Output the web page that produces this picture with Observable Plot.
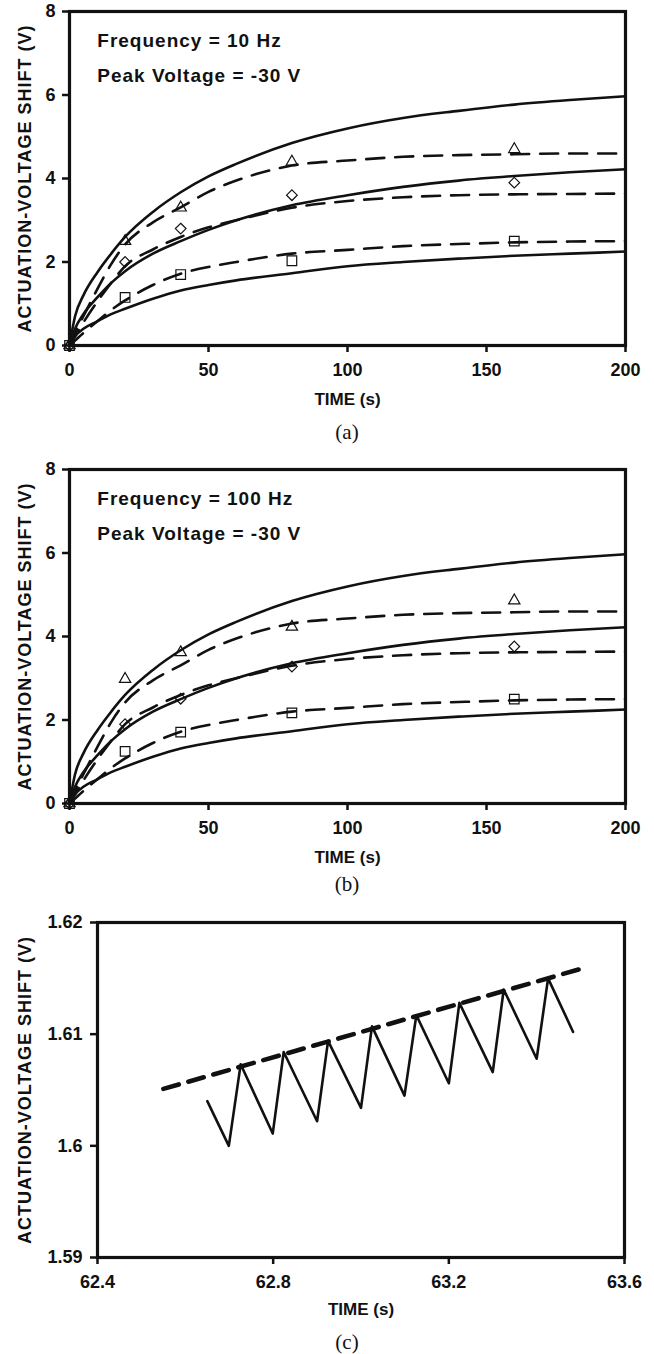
<!DOCTYPE html>
<html><head><meta charset="utf-8">
<script src="https://cdn.jsdelivr.net/npm/d3@7"></script>
<script src="https://cdn.jsdelivr.net/npm/@observablehq/plot@0.6"></script>
<style>
html,body{margin:0;padding:0;background:#fff;overflow:hidden;}
#fig{position:relative;width:654px;height:1354px;background:#fff;}
.panel{position:absolute;left:0;}
.cap{position:absolute;left:247px;width:200px;text-align:center;line-height:24px;font-family:"Liberation Serif","Times New Roman",serif;font-size:21px;color:#111;}
</style></head><body><div id="fig"></div>
<script>
// ---- panels (a) and (b): model curves (same in both panels) ----
const curveTime   = [0, 2, 5, 10, 15, 20, 30, 40, 50, 60, 80, 100, 120, 140, 160, 180, 200];
const solidHigh   = [0, 0.7, 1.2, 1.75, 2.2, 2.6, 3.2, 3.67, 4.05, 4.35, 4.85, 5.2, 5.45, 5.62, 5.77, 5.88, 5.97];
const solidMid    = [0, 0.4, 0.75, 1.15, 1.5, 1.78, 2.2, 2.5, 2.77, 3.0, 3.36, 3.6, 3.8, 3.95, 4.06, 4.15, 4.22];
const solidLow    = [0, 0.22, 0.4, 0.58, 0.75, 0.88, 1.12, 1.32, 1.45, 1.56, 1.73, 1.9, 2.0, 2.08, 2.15, 2.2, 2.25];
const dashedHigh  = [0, 0.3, 0.7, 1.35, 1.95, 2.42, 2.95, 3.31, 3.68, 3.95, 4.31, 4.43, 4.52, 4.56, 4.58, 4.6, 4.6];
const dashedMid   = [0, 0.22, 0.55, 1.05, 1.5, 1.9, 2.3, 2.6, 2.83, 3.0, 3.3, 3.46, 3.55, 3.6, 3.62, 3.63, 3.64];
const dashedLow   = [0, 0.12, 0.3, 0.58, 0.85, 1.08, 1.45, 1.72, 1.88, 2.0, 2.2, 2.29, 2.38, 2.43, 2.47, 2.49, 2.5];

// ---- measured points ----
const markerTime  = [0, 20, 40, 80, 160];
const trianglesA  = [0, 2.5, 3.3, 4.4, 4.7];
const diamondsA   = [0, 2.0, 2.8, 3.6, 3.9];
const squaresA    = [0, 1.15, 1.7, 2.03, 2.5];
const trianglesB  = [0, 2.98, 3.62, 4.23, 4.86];
const diamondsB   = [0, 1.9, 2.51, 3.28, 3.76];
const squaresB    = [0, 1.25, 1.71, 2.17, 2.5];

const xTicksAB = [0, 50, 100, 150, 200];
const yTicksAB = [0, 2, 4, 6, 8];
const notesA = ["Frequency = 10 Hz", "Peak Voltage = -30 V"];
const notesB = ["Frequency = 100 Hz", "Peak Voltage = -30 V"];
const noteY  = [7.16, 6.31];

// ---- panel (c) ----
const sawTime  = [62.65, 62.699, 62.726, 62.799, 62.824, 62.9, 62.925, 63.0, 63.025, 63.099, 63.126, 63.2, 63.224, 63.3, 63.325, 63.4, 63.426, 63.483];
const sawValue = [1.604, 1.600, 1.6073, 1.6011, 1.6084, 1.6022, 1.6094, 1.6034, 1.6107, 1.6045, 1.6117, 1.6056, 1.6128, 1.6066, 1.614, 1.6078, 1.615, 1.6102];
const envTime  = [62.55, 63.496];
const envValue = [1.6051, 1.6158];
const xTicksC = [62.4, 62.8, 63.2, 63.6];
const yTicksC = [1.59, 1.6, 1.61, 1.62];

const yLabel = "ACTUATION-VOLTAGE SHIFT (V)";
const xLabel = "TIME (s)";

const FONT = "'Liberation Sans', Arial, Helvetica, sans-serif";
const INK = "#111";

function rows(xs, ys) { return xs.map((x, i) => ({x, y: ys[i]})); }

function styleTexts(svg) {
  svg.querySelectorAll("text").forEach(t => {
    const s = t.textContent;
    if (s.startsWith("Frequency") || s.startsWith("Peak")) t.style.letterSpacing = "1px";
    if (s.startsWith("ACTUATION")) t.style.letterSpacing = "1px";
  });
  return svg;
}

function panelAB(top, tri, dia, sq, notes) {
  const solid = [solidHigh, solidMid, solidLow];
  const dashed = [dashedHigh, dashedMid, dashedLow];
  const svg = Plot.plot({
    width: 654, height: 411,
    marginTop: 11, marginLeft: 69, marginRight: 29, marginBottom: 66,
    x: {domain: [0, 200]},
    y: {domain: [0, 8]},
    style: {fontFamily: FONT, fontWeight: "bold", fontSize: "18px", color: INK, background: "#fff"},
    marks: [
      ...dashed.map(v => Plot.line(rows(curveTime, v), {x: "x", y: "y", curve: "monotone-x", stroke: INK, strokeWidth: 2.6, strokeDasharray: "18,11"})),
      ...solid.map(v => Plot.line(rows(curveTime, v), {x: "x", y: "y", curve: "monotone-x", stroke: INK, strokeWidth: 2.6})),
      Plot.dot(rows(markerTime, tri), {x: "x", y: "y", symbol: "triangle", r: 4.2, stroke: INK, strokeWidth: 1.2, fill: "none"}),
      Plot.dot(rows(markerTime, dia), {x: "x", y: "y", symbol: "diamond2", r: 4.8, stroke: INK, strokeWidth: 1.2, fill: "none"}),
      Plot.dot(rows(markerTime, sq), {x: "x", y: "y", symbol: "square", r: 5.4, stroke: INK, strokeWidth: 1.2, fill: "none"}),
      Plot.text(notes.map((n, i) => ({t: n, y: noteY[i]})), {x: () => 10, y: "y", text: "t", textAnchor: "start", lineAnchor: "bottom", fontSize: 19, fontWeight: "bold", fill: INK}),
      Plot.axisX({ticks: xTicksAB, tickSize: 7, tickPadding: 11, strokeWidth: 2.5, label: null, tickFormat: d => String(d)}),
      Plot.axisY({ticks: yTicksAB, tickSize: 7, tickPadding: 7, strokeWidth: 2.5, label: null, tickFormat: d => String(d)}),
      Plot.frame({stroke: INK, strokeWidth: 3.2}),
      Plot.text([xLabel], {frameAnchor: "bottom", dy: 54, textAnchor: "middle", lineAnchor: "middle", fontSize: 17, fontWeight: "bold", fill: INK}),
      Plot.text([yLabel], {frameAnchor: "left", dx: -44, rotate: -90, textAnchor: "middle", lineAnchor: "middle", fontSize: 18, fontWeight: "bold", fill: INK})
    ]
  });
  svg.classList.add("panel");
  svg.style.top = top + "px";
  return styleTexts(svg);
}

function panelC(top) {
  const svg = Plot.plot({
    width: 654, height: 411,
    marginTop: 11, marginLeft: 97, marginRight: 30, marginBottom: 65,
    x: {domain: [62.4, 63.6]},
    y: {domain: [1.59, 1.62]},
    style: {fontFamily: FONT, fontWeight: "bold", fontSize: "18px", color: INK, background: "#fff"},
    marks: [
      Plot.line(rows(envTime, envValue), {x: "x", y: "y", stroke: INK, strokeWidth: 4.6, strokeDasharray: "16,10"}),
      Plot.line(rows(sawTime, sawValue), {x: "x", y: "y", stroke: INK, strokeWidth: 2.6}),
      Plot.axisX({ticks: xTicksC, tickSize: 7, tickPadding: 11, strokeWidth: 2.5, label: null, tickFormat: d => String(d)}),
      Plot.axisY({ticks: yTicksC, tickSize: 7, tickPadding: 8, strokeWidth: 2.5, label: null, tickFormat: d => String(d)}),
      Plot.frame({stroke: INK, strokeWidth: 3.2}),
      Plot.text([xLabel], {frameAnchor: "bottom", dy: 52, textAnchor: "middle", lineAnchor: "middle", fontSize: 17, fontWeight: "bold", fill: INK}),
      Plot.text([yLabel], {frameAnchor: "left", dx: -72, rotate: -90, textAnchor: "middle", lineAnchor: "middle", fontSize: 18, fontWeight: "bold", fill: INK})
    ]
  });
  svg.classList.add("panel");
  svg.style.top = top + "px";
  return styleTexts(svg);
}

const fig = document.getElementById("fig");
fig.appendChild(panelAB(0, trianglesA, diamondsA, squaresA, notesA));
fig.appendChild(panelAB(458, trianglesB, diamondsB, squaresB, notesB));
fig.appendChild(panelC(911));

const captions = [["(a)", 432], ["(b)", 884], ["(c)", 1342]];
for (const [t, cy] of captions) {
  const d = document.createElement("div");
  d.className = "cap";
  d.textContent = t;
  d.style.top = (cy - 12) + "px";
  fig.appendChild(d);
}
</script></body></html>
